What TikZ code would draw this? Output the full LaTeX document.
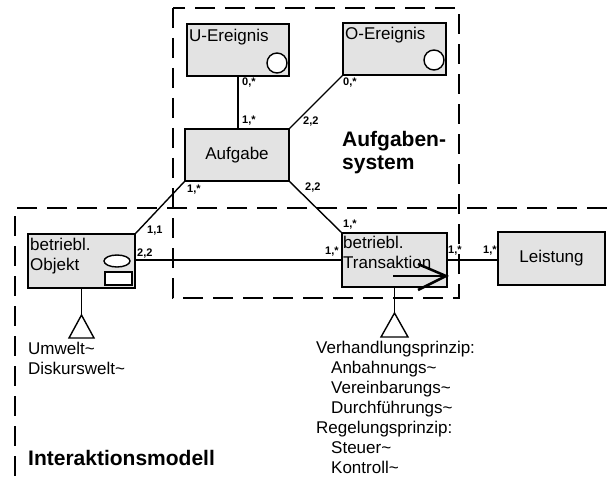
\documentclass[tikz,border=0pt]{standalone}
\usepackage{fontspec}
\setmainfont{Liberation Sans}
\usetikzlibrary{calc}
\tikzset{
  box/.style={draw, line width=1.4pt, fill=gray!22, rectangle, inner sep=0pt},
  conn/.style={line width=1.4pt},
  dashbox/.style={line width=1.8pt, dash pattern=on 20pt off 10pt},
  txt/.style={font=\fontsize{17}{20}\selectfont, inner sep=0pt, align=left},
  mult/.style={font=\bfseries\fontsize{11}{12}\selectfont, inner sep=0pt, anchor=west},
  big/.style={font=\bfseries\fontsize{21}{23}\selectfont, inner sep=0pt, align=left},
  tri/.style={line width=1.4pt, fill=white}
}
\begin{document}
\begin{tikzpicture}[x=1pt,y=-1pt]
\useasboundingbox (0,0) rectangle (607,481);
% dashed frames
\draw[dashbox] (173,8) rectangle (459,298);
\draw[dashbox] (607,208) -- (15,208) -- (15,481);
% boxes
\node[box, minimum width=102pt, minimum height=52pt] (U) at (238,50) {};
\node[box, minimum width=103pt, minimum height=52pt] (O) at (394.5,49) {};
\node[box, minimum width=104pt, minimum height=52pt] (A) at (237,155) {};
\node[box, minimum width=107pt, minimum height=54pt] (B) at (81.5,261) {};
\node[box, minimum width=105pt, minimum height=54pt] (T) at (394.5,260) {};
\node[box, minimum width=107pt, minimum height=53pt] (L) at (551.5,258.5) {};
% box contents
\node[txt, anchor=west] (Ut) at (189,37) {U-Ereignis};
\draw[line width=1.4pt, fill=white] (277,63) circle (10pt);
\node[txt, anchor=west] (Ot) at (345,35) {O-Ereignis};
\draw[line width=1.4pt, fill=white] (434,60) circle (10pt);
\node[txt] (At) at (A.center) {Aufgabe};
\node[txt, anchor=north west] (Bt) at (30,238) {betriebl.\\Objekt};
\draw[line width=1.4pt, fill=white] (117,261) ellipse (13pt and 6pt);
\draw[line width=1.4pt, fill=white] (105,272) rectangle (132,285);
\node[txt, anchor=north west] (Tt) at (343,236) {betriebl.\\Transaktion};
\draw[line width=2pt] (393,276) -- (443,276);
\draw[line width=2.5pt, line join=miter] (418,264) -- (446,276) -- (418,290);
\node[txt] (Lt) at (L.center) {Leistung};
% connectors
\draw[conn] (U.south) -- (U.south |- A.north);
\draw[conn] (O.south west) -- (A.north east);
\draw[conn] (A.south west) -- (B.north east);
\draw[conn] (A.south east) -- (T.north west);
\draw[conn] (B.east |- T.west) -- (T.west);
\draw[conn] (T.east) -- (T.east -| L.west);
% multiplicities
\node[mult] (m1) at (242,83) {0,*};
\node[mult] (m2) at (343,83) {0,*};
\node[mult] (m3) at (242,121) {1,*};
\node[mult] (m4) at (303,122) {2,2};
\node[mult] (m5) at (187,190) {1,*};
\node[mult] (m6) at (305,188) {2,2};
\node[mult] (m7) at (147,231) {1,1};
\node[mult] (m8) at (137,254) {2,2};
\node[mult] (m9) at (343,225) {1,*};
\node[mult] (m10) at (325,252) {1,*};
\node[mult] (m11) at (448,251) {1,*};
\node[mult] (m12) at (483,251) {1,*};
% generalisation triangles
\coordinate (b1) at (81.5,315);
\draw[conn] (B.south) -- (b1);
\draw[tri] (b1) -- ++(12.5,23) -- ++(-25,0) -- cycle;
\coordinate (b2) at (394.5,313);
\draw[conn] (T.south) -- (b2);
\draw[tri] (b2) -- ++(13.5,24) -- ++(-27,0) -- cycle;
% texts
\node[txt, anchor=north west] (uw) at (28,342) {Umwelt\textasciitilde\\Diskurswelt\textasciitilde};
\node[txt, anchor=north west] (vp) at (316,341) {Verhandlungsprinzip:\\
\hspace*{15pt}Anbahnungs\textasciitilde\\
\hspace*{15pt}Vereinbarungs\textasciitilde\\
\hspace*{15pt}Durchführungs\textasciitilde\\
Regelungsprinzip:\\
\hspace*{15pt}Steuer\textasciitilde\\
\hspace*{15pt}Kontroll\textasciitilde};
\node[big, anchor=north west] (as) at (342,131) {Aufgaben-\\system};
\node[big, anchor=west] (im) at (28,458) {Interaktionsmodell};
\end{tikzpicture}
\end{document}
